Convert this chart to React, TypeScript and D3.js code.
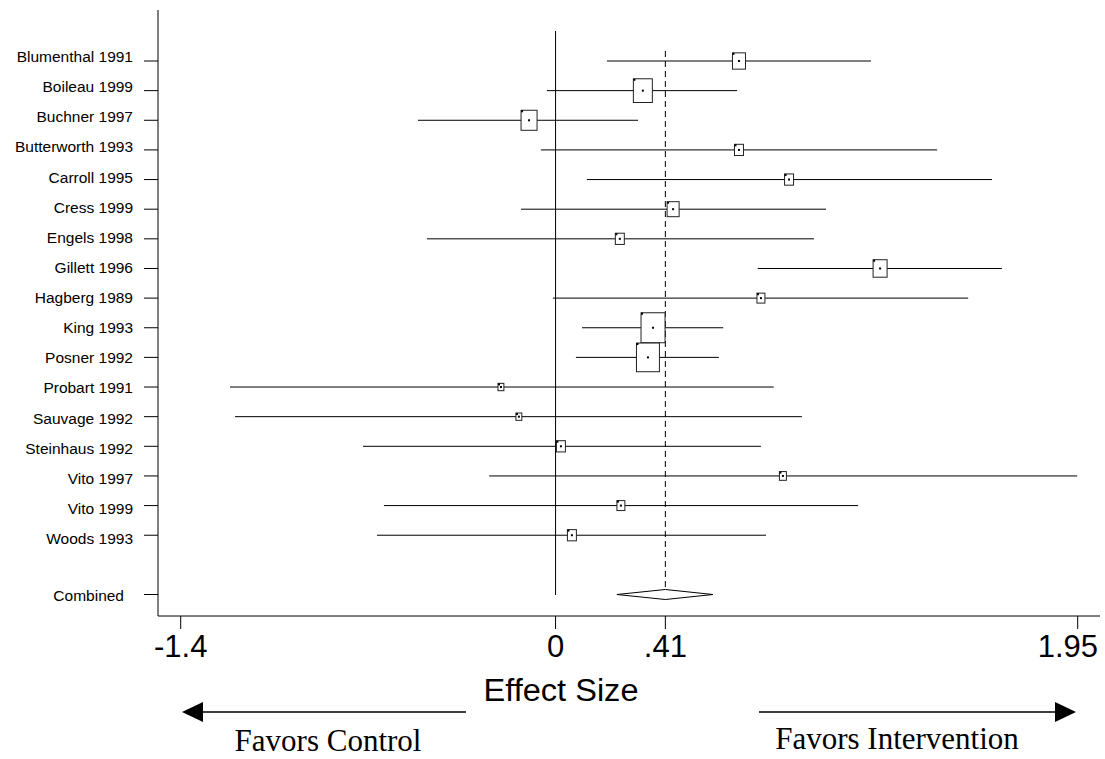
import React from 'react';
import * as d3 from 'd3';

const STUDIES = [
  'Blumenthal 1991', 'Boileau 1999', 'Buchner 1997', 'Butterworth 1993', 'Carroll 1995',
  'Cress 1999', 'Engels 1998', 'Gillett 1996', 'Hagberg 1989', 'King 1993', 'Posner 1992',
  'Probart 1991', 'Sauvage 1992', 'Steinhaus 1992', 'Vito 1997', 'Vito 1999', 'Woods 1993',
];
const EST   = [0.685, 0.326, -0.099, 0.685, 0.872, 0.439, 0.240, 1.212, 0.767, 0.364, 0.345, -0.204, -0.137, 0.020, 0.849, 0.244, 0.061];
const LOWER = [0.192, -0.032, -0.514, -0.055, 0.117, -0.129, -0.480, 0.755, -0.010, 0.099, 0.076, -1.216, -1.197, -0.719, -0.248, -0.641, -0.667];
const UPPER = [1.178, 0.678, 0.308, 1.425, 1.630, 1.010, 0.965, 1.667, 1.541, 0.626, 0.610, 0.815, 0.920, 0.767, 1.948, 1.130, 0.786];
const WEIGHT = [5.9, 12.5, 8.9, 2.8, 2.8, 5.0, 2.8, 6.8, 2.2, 20.0, 18.3, 1.2, 1.2, 2.8, 1.7, 2.2, 2.8];

const COMBINED = { label: 'Combined', est: 0.41, lo: 0.229, hi: 0.588 };
const TICKS = [-1.4, 0, 0.41, 1.95];
const TICK_LABELS = ['-1.4', '0', '.41', '1.95'];

const W = 1105, H = 759;
const SANS = 'Liberation Sans, Arial, sans-serif';
const SERIF = 'Liberation Serif, Times New Roman, serif';

export default function App() {
  const x = d3.scaleLinear().domain([-1.4, 1.95]).range([180.7, 1077.7]);
  const y = d3.scaleLinear().domain([0, 18]).range([61, 594.5]);
  // row labels drift slightly from the row lines in the original
  const labelY = d3.scaleLinear().domain([0, 16]).range([62, 544]);
  const size = d3.scaleSqrt().domain([0, 20]).range([0, 24]);

  const axisY = 616, axisX = 158;
  const cy = y(STUDIES.length + 1);
  const dh = 5;
  const diamond = `M${x(COMBINED.lo)},${cy} L${x(COMBINED.est)},${cy - dh} L${x(COMBINED.hi)},${cy} L${x(COMBINED.est)},${cy + dh} Z`;

  return (
    <svg width={W} height={H} style={{ position: 'absolute', left: 0, top: 0, background: '#fff' }}>
      {/* axes */}
      <line x1={axisX} x2={axisX} y1={10} y2={axisY} stroke="#000" />
      <line x1={axisX} x2={1100} y1={axisY} y2={axisY} stroke="#000" />
      {TICKS.map((t, i) => {
        const last = i === TICKS.length - 1;
        return (
          <g key={i}>
            <line x1={x(t)} x2={x(t)} y1={axisY} y2={axisY + 13} stroke="#000" />
            <text x={last ? 1098 : x(t)} y={axisY + 41} textAnchor={last ? 'end' : 'middle'}
              fontFamily={SANS} fontSize={31} fill="#000">{TICK_LABELS[i]}</text>
          </g>
        );
      })}
      <text x={561} y={701} textAnchor="middle" fontFamily={SANS} fontSize={31}
        textLength={155} lengthAdjust="spacingAndGlyphs" fill="#000">Effect Size</text>

      {/* reference lines */}
      <line x1={x(0)} x2={x(0)} y1={31} y2={595} stroke="#000" />
      <line x1={x(COMBINED.est)} x2={x(COMBINED.est)} y1={51} y2={590} stroke="#000" strokeDasharray="6,4" />

      {/* study rows */}
      {STUDIES.map((s, i) => {
        const yy = y(i);
        const w = size(WEIGHT[i]);
        const h = w * 1.25;
        const cx = x(EST[i]);
        return (
          <g key={s}>
            <line x1={144} x2={axisX} y1={yy} y2={yy} stroke="#000" />
            <text x={133} y={labelY(i)} textAnchor="end" fontFamily={SANS} fontSize={15.5} fill="#000">{s}</text>
            <line x1={x(LOWER[i])} x2={x(UPPER[i])} y1={yy} y2={yy} stroke="#000" />
            <rect x={cx - w / 2} y={yy - h / 2} width={w} height={h} fill="#fff" stroke="#222" />
            <rect x={cx - w / 2} y={yy - h / 2} width={2} height={2} fill="#000" />
            <rect x={cx - 1} y={yy - 1} width={2} height={2} fill="#000" />
          </g>
        );
      })}

      {/* combined */}
      <line x1={144} x2={axisX} y1={cy} y2={cy} stroke="#000" />
      <text x={124} y={cy + 6} textAnchor="end" fontFamily={SANS} fontSize={15.5} fill="#000">{COMBINED.label}</text>
      <path d={diamond} fill="#fff" stroke="#000" />

      {/* direction arrows */}
      <line x1={200} x2={466} y1={712} y2={712} stroke="#000" strokeWidth={1.5} />
      <path d="M182,712 L203,702 L203,722 Z" fill="#000" />
      <line x1={759} x2={1058} y1={712} y2={712} stroke="#000" strokeWidth={1.5} />
      <path d="M1076,712 L1055,702 L1055,722 Z" fill="#000" />
      <text x={328} y={751} textAnchor="middle" fontFamily={SERIF} fontSize={31} fill="#000">Favors Control</text>
      <text x={897} y={749} textAnchor="middle" fontFamily={SERIF} fontSize={31} fill="#000">Favors Intervention</text>
    </svg>
  );
}
